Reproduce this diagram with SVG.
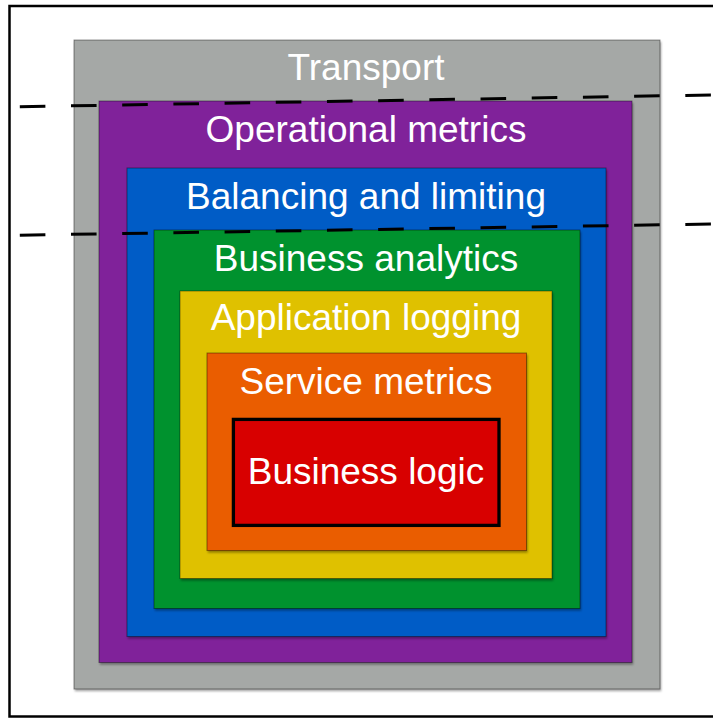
<svg xmlns="http://www.w3.org/2000/svg" width="713" height="719" viewBox="0 0 713 719">
<defs>
<filter id="sh" x="-5%" y="-5%" width="110%" height="110%">
<feDropShadow dx="1" dy="2" stdDeviation="1.2" flood-color="#000" flood-opacity="0.35"/>
</filter>
</defs>
<style>
.box{stroke:#000;stroke-opacity:0.4;stroke-width:1;filter:url(#sh)}
.lbl{font-family:"Liberation Sans",Arial,Helvetica,sans-serif;font-size:37px;fill:#ffffff;text-anchor:middle}
.dash{stroke:#000;stroke-width:3;stroke-dasharray:25.6 25.6;fill:none}
</style>
<rect x="9.5" y="6" width="720" height="710.5" fill="#ffffff" stroke="#000" stroke-width="2.5"/>
<g id="transport">
<rect class="box" x="74" y="40" width="586" height="649" fill="#a5a8a6"/>
<text class="lbl" x="366" y="80">Transport</text>
</g>
<g id="operational-metrics">
<rect class="box" x="99" y="101" width="533" height="561.5" fill="#80219a"/>
<text class="lbl" x="366" y="142">Operational metrics</text>
</g>
<g id="balancing-limiting">
<rect class="box" x="127" y="168" width="479" height="468.5" fill="#005bc6"/>
<text class="lbl" x="366" y="208.5">Balancing and limiting</text>
</g>
<g id="business-analytics">
<rect class="box" x="154" y="230" width="426" height="378.5" fill="#00922e"/>
<text class="lbl" x="366" y="271">Business analytics</text>
</g>
<g id="application-logging">
<rect class="box" x="180" y="291" width="372" height="287.5" fill="#dfc100"/>
<text class="lbl" x="366" y="329.5">Application logging</text>
</g>
<g id="service-metrics">
<rect class="box" x="207" y="353" width="319.5" height="197.5" fill="#ea5d00"/>
<text class="lbl" x="366" y="393.5">Service metrics</text>
</g>
<g id="business-logic">
<rect x="233.4" y="419.4" width="265.6" height="106" fill="#d80000" stroke="#000" stroke-width="3.3"/>
<text class="lbl" x="366" y="483.5">Business logic</text>
</g>
<g id="connectors">
<line class="dash" x1="19.8" y1="106.7" x2="711" y2="95"/>
<line class="dash" x1="19.8" y1="235.2" x2="711" y2="224"/>
</g>
</svg>
